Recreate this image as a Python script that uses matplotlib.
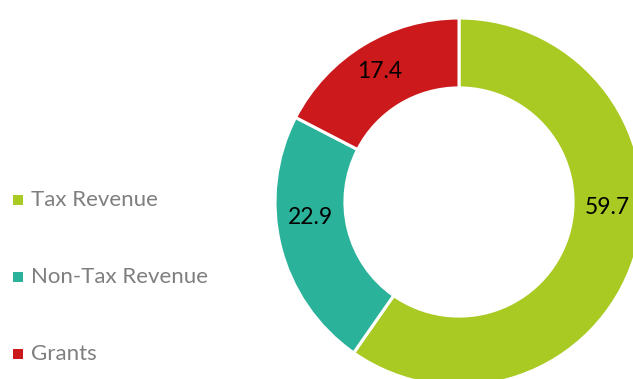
import matplotlib.pyplot as plt
from matplotlib.patches import Rectangle

plt.rcParams['font.family'] = ['Lato', 'DejaVu Sans']

# Revenue composition (percent of total)
categories = ["Tax Revenue", "Non-Tax Revenue", "Grants"]
shares = [59.7, 22.9, 17.4]
colors = ["#A9C923", "#2BB29A", "#CC1A1C"]

# Label anchor points in ring units (radius 1 = outer edge)
label_xy = [(0.805, -0.03), (-0.805, -0.085), (-0.43, 0.71)]

W, H = 633, 379
cx, cy, r = 459, 202, 184  # pie centre / radius in pixels

fig = plt.figure(figsize=(W / 100, H / 100), dpi=100)
ax = fig.add_axes([0, 0, 1, 1])
ax.axis("off")

ax.pie(shares, colors=colors, startangle=90, counterclock=False, radius=1.0,
       wedgeprops=dict(width=0.38, edgecolor="white", linewidth=2.2))
ax.set_xlim(-cx / r, (W - cx) / r)
ax.set_ylim(-(H - cy) / r, cy / r)
ax.set_aspect("auto")

for v, (lx, ly) in zip(shares, label_xy):
    ax.text(lx, ly, f"{v:.1f}", ha="center", va="center", fontsize=16.5, color="black")

# Legend on the left
leg_y = [200, 277, 354]
for name, col, y in zip(categories, colors, leg_y):
    fy = 1 - y / H
    fig.patches.append(Rectangle((13 / W, fy - 4.5 / H), 9.5 / W, 9.5 / H,
                                 transform=fig.transFigure, facecolor=col, edgecolor="none"))
    fig.text(31 / W, fy, name, ha="left", va="center", fontsize=16, color="#7F7F7F")

fig.savefig("out.png", dpi=100)
